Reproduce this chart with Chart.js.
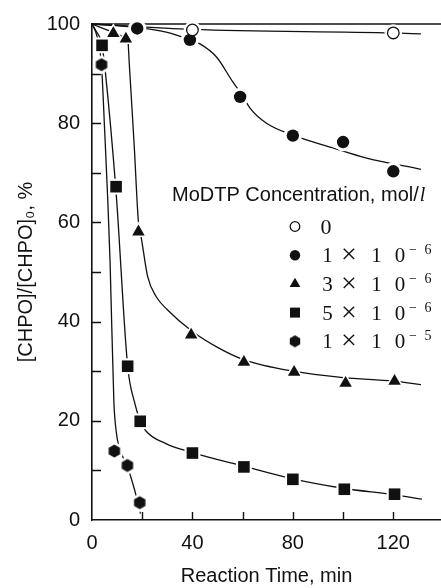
<!DOCTYPE html>
<html>
<head>
<meta charset="utf-8">
<script src="https://cdn.jsdelivr.net/npm/chart.js"></script>
<style>
  html, body { margin: 0; padding: 0; background: #fff; }
  canvas { display: block; }
</style>
</head>
<body>
<canvas id="chpoChart" width="441" height="588"></canvas>
<script>
// measured points: reaction time (min) and [CHPO]/[CHPO]0 (%)
const timeA = [40, 120];
const pctA = [98.8, 98.2];
const timeB = [18, 39, 59, 80, 100, 120];
const pctB = [99.1, 96.8, 85.3, 77.5, 76.2, 70.3];
const timeC = [8.5, 13.5, 18.5, 39.5, 60.5, 80.5, 101, 120.5];
const pctC = [98.1, 97.0, 58.1, 37.3, 31.8, 29.8, 27.6, 28.0];
const timeD = [4, 9.6, 14.2, 19.2, 40, 60.5, 80, 100.5, 120.5];
const pctD = [95.7, 67.2, 31, 19.9, 13.5, 10.7, 8.2, 6.2, 5.2];
const timeE = [3.8, 8.9, 14.1, 19];
const pctE = [91.8, 13.9, 11, 3.5];

// fitted curves through each series
const fitTimeA = [0, 40, 120, 131];
const fitPctA = [100, 98.9, 98.2, 98.0];
const fitTimeB = [0, 18, 30, 39, 43, 49.5, 56, 60, 63, 69.5, 80, 96, 109, 131];
const fitPctB = [100, 99.3, 98.3, 96.8, 96, 93.4, 88.4, 85.5, 83, 80, 77.6, 75, 73, 70.7];
const fitTimeC = [0, 8.5, 13.5, 14.3, 14.8, 16.8, 18.5, 19.6, 22.2, 25.6, 30, 40, 50, 60, 80, 100, 120, 131];
const fitPctC = [100, 98.3, 97.2, 96.7, 92.4, 75.6, 60, 57, 49, 45, 42.4, 38, 34.8, 32.4, 30, 28.7, 28, 27.3];
const fitTimeD = [0, 1.5, 4, 5.3, 9.6, 14.2, 16.8, 19.2, 21.4, 29.4, 40, 60, 80, 100, 120, 131.4];
const fitPctD = [100, 98.7, 95.7, 90.4, 66, 31, 24, 20, 18, 15.4, 13.6, 10.9, 8.3, 6.4, 5.1, 4.2];
const fitTimeE = [0, 2, 3.8, 5, 6.3, 7.2, 8.7, 9.6, 10.8, 14.1, 17, 19.3];
const fitPctE = [100, 97.5, 91.5, 79, 64.3, 52, 24, 18, 14.7, 10.8, 6, 1.3];

// MoDTP concentration, mol/l
const concMantissa = ['0', '1', '3', '5', '1'];
const concExponent = [null, '6', '6', '6', '5'];
const legendTitle = 'MoDTP Concentration, mol/';
const legendUnit = 'l';

const xTickValues = [0, 20, 40, 60, 80, 100, 120];
const yTickValues = [0, 10, 20, 30, 40, 50, 60, 70, 80, 90, 100];

const ink = '#111';
const sans = '"Liberation Sans", Arial, sans-serif';
const serif = '"Liberation Serif", "Times New Roman", serif';

function pairs(xs, ys) {
    return xs.map((v, i) => ({x: v, y: ys[i]}));
}

// hexagon marker, pointy top
function hexagonImage(r, color) {
    const s = Math.ceil(2 * r + 2);
    const c = document.createElement('canvas');
    c.width = s;
    c.height = s;
    const g = c.getContext('2d');
    g.fillStyle = color;
    g.beginPath();
    for (let i = 0; i < 6; i++) {
        const a = -Math.PI / 2 + i * Math.PI / 3;
        const px = s / 2 + r * Math.cos(a);
        const py = s / 2 + r * Math.sin(a);
        if (i === 0) g.moveTo(px, py); else g.lineTo(px, py);
    }
    g.closePath();
    g.fill();
    return c;
}

const hexInk = hexagonImage(6.6, ink);
const hexHalo = hexagonImage(9.6, '#fff');
const hexLegend = hexagonImage(6, ink);

const markers = [
    {t: timeA, p: pctA, style: 'circle', r: 5.8, fill: '#fff', border: 1.3, halo: 'circle'},
    {t: timeB, p: pctB, style: 'circle', r: 6.2, fill: ink, border: 0, halo: 'circle'},
    {t: timeC, p: pctC, style: 'triangle', r: 7.2, fill: ink, border: 0, halo: 'triangle'},
    {t: timeD, p: pctD, style: 'rect', r: 8.2, fill: ink, border: 0, halo: 'rect'},
    {t: timeE, p: pctE, style: hexInk, r: 6.6, fill: ink, border: 0, halo: hexHalo}
];
const fits = [
    [fitTimeA, fitPctA], [fitTimeB, fitPctB], [fitTimeC, fitPctC],
    [fitTimeD, fitPctD], [fitTimeE, fitPctE]
];

const datasets = [];
fits.forEach(([t, p]) => {
    datasets.push({
        data: pairs(t, p),
        showLine: true,
        borderColor: ink,
        borderWidth: 1.3,
        pointRadius: 0,
        cubicInterpolationMode: 'monotone',
        fill: false,
        clip: false,
        order: 3
    });
});
markers.forEach(m => {
    // white gap around each marker where the curve stops short
    datasets.push({
        data: pairs(m.t, m.p),
        showLine: false,
        pointStyle: m.halo,
        pointRadius: m.r + 3,
        pointBackgroundColor: '#fff',
        pointBorderWidth: 0,
        clip: false,
        order: 2
    });
    datasets.push({
        data: pairs(m.t, m.p),
        showLine: false,
        pointStyle: m.style,
        pointRadius: m.r,
        pointBackgroundColor: m.fill,
        pointBorderColor: ink,
        pointBorderWidth: m.border,
        clip: false,
        order: 1
    });
});

// top frame line and inward tick marks
const FrameTicks = {
    id: 'frameTicks',
    beforeDatasetsDraw(chart) {
        const {ctx, chartArea, scales: {x, y}} = chart;
        ctx.save();
        ctx.strokeStyle = ink;
        ctx.lineWidth = 1.6;
        ctx.beginPath();
        ctx.moveTo(chartArea.left, chartArea.top);
        ctx.lineTo(chartArea.right, chartArea.top);
        ctx.stroke();
        ctx.lineWidth = 1.4;
        ctx.beginPath();
        yTickValues.slice(1, -1).forEach(v => {
            const py = Math.round(y.getPixelForValue(v)) + 0.5;
            ctx.moveTo(chartArea.left, py);
            ctx.lineTo(chartArea.left + 9, py);
        });
        xTickValues.slice(1).forEach(v => {
            const px = Math.round(x.getPixelForValue(v)) + 0.5;
            ctx.moveTo(px, chartArea.bottom);
            ctx.lineTo(px, chartArea.bottom - 8);
        });
        ctx.stroke();
        ctx.restore();
    }
};

function drawMarker(ctx, style, r, x, y, hollow) {
    if (style instanceof HTMLCanvasElement) {
        ctx.drawImage(style, x - style.width / 2, y - style.height / 2);
        return;
    }
    ctx.beginPath();
    if (style === 'circle') {
        ctx.arc(x, y, r, 0, Math.PI * 2);
    } else if (style === 'triangle') {
        ctx.moveTo(x, y - r);
        ctx.lineTo(x + r * Math.sin(Math.PI * 2 / 3), y + r / 2);
        ctx.lineTo(x - r * Math.sin(Math.PI * 2 / 3), y + r / 2);
        ctx.closePath();
    } else {
        ctx.rect(x - r, y - r, 2 * r, 2 * r);
    }
    if (hollow) {
        ctx.lineWidth = 1.3;
        ctx.stroke();
    } else {
        ctx.fill();
    }
}

// legend block inside the plot
const ConcLegend = {
    id: 'concLegend',
    afterDraw(chart) {
        const {ctx, chartArea} = chart;
        const left = chartArea.left;
        ctx.save();
        ctx.fillStyle = ink;
        ctx.strokeStyle = ink;
        ctx.textBaseline = 'alphabetic';
        ctx.textAlign = 'left';
        ctx.font = '20px ' + sans;
        ctx.fillText(legendTitle, left + 80, 201);
        const w = ctx.measureText(legendTitle).width;
        ctx.font = 'italic 20px ' + serif;
        ctx.fillText(legendUnit, left + 80 + w + 1, 201);

        const legendMarks = [
            ['circle', 4.8, true], ['circle', 5.2, false], ['triangle', 6.2, false],
            ['rect', 5, false], [hexLegend, 6, false]
        ];
        ctx.textAlign = 'center';
        concMantissa.forEach((m, i) => {
            const cy = 226.5 + i * 28.7;
            const mk = legendMarks[i];
            drawMarker(ctx, mk[0], mk[1], left + 203, cy, mk[2]);
            if (concExponent[i] === null) {
                ctx.font = '22px ' + serif;
                ctx.fillText(m, left + 234, cy + 7.5);
                return;
            }
            ctx.font = '21px ' + serif;
            ctx.fillText(m, left + 235.5, cy + 7);
            ctx.fillText('1', left + 284.5, cy + 7);
            ctx.fillText('0', left + 308, cy + 7);
            ctx.font = '28px ' + serif;
            ctx.fillText('\u00d7', left + 257, cy + 8);
            ctx.font = '14px ' + serif;
            ctx.fillText('\u2212', left + 321, cy - 1);
            ctx.fillText(concExponent[i], left + 336, cy - 1);
        });
        ctx.restore();
    }
};

const chpoChart = new Chart(document.getElementById('chpoChart'), {
    type: 'scatter',
    data: {datasets: datasets},
    options: {
        responsive: false,
        animation: false,
        events: [],
        layout: {autoPadding: false, padding: {top: 22, right: 0, left: 0, bottom: 0}},
        plugins: {
            legend: {display: false},
            tooltip: {enabled: false}
        },
        scales: {
            x: {
                type: 'linear',
                min: 0,
                max: 139,
                afterBuildTicks: s => { s.ticks = xTickValues.map(v => ({value: v})); },
                afterFit: s => { s.height = 68; s.paddingLeft = 0; s.paddingRight = 0; },
                grid: {display: false, drawTicks: false},
                border: {display: true, color: ink, width: 1.6},
                ticks: {
                    callback: v => (v % 40 === 0 ? v : ''),
                    color: ink,
                    font: {family: sans, size: 20},
                    padding: 11,
                    maxRotation: 0,
                    autoSkip: false
                },
                title: {
                    display: true,
                    text: 'Reaction Time, min',
                    color: ink,
                    font: {family: sans, size: 20},
                    padding: {top: 0, bottom: 0}
                }
            },
            y: {
                type: 'linear',
                min: 0,
                max: 100,
                afterBuildTicks: s => { s.ticks = yTickValues.map(v => ({value: v})); },
                afterFit: s => { s.width = 92; },
                grid: {display: false, drawTicks: false},
                border: {display: true, color: ink, width: 1.6},
                ticks: {
                    callback: v => (v % 20 === 0 ? v : ''),
                    color: ink,
                    font: {family: sans, size: 20},
                    padding: 12,
                    autoSkip: false
                },
                title: {
                    display: true,
                    text: '[CHPO]/[CHPO]\u2080, %',
                    color: ink,
                    font: {family: sans, size: 20},
                    padding: {top: 14, bottom: 0}
                }
            }
        }
    },
    plugins: [FrameTicks, ConcLegend]
});
</script>
</body>
</html>
